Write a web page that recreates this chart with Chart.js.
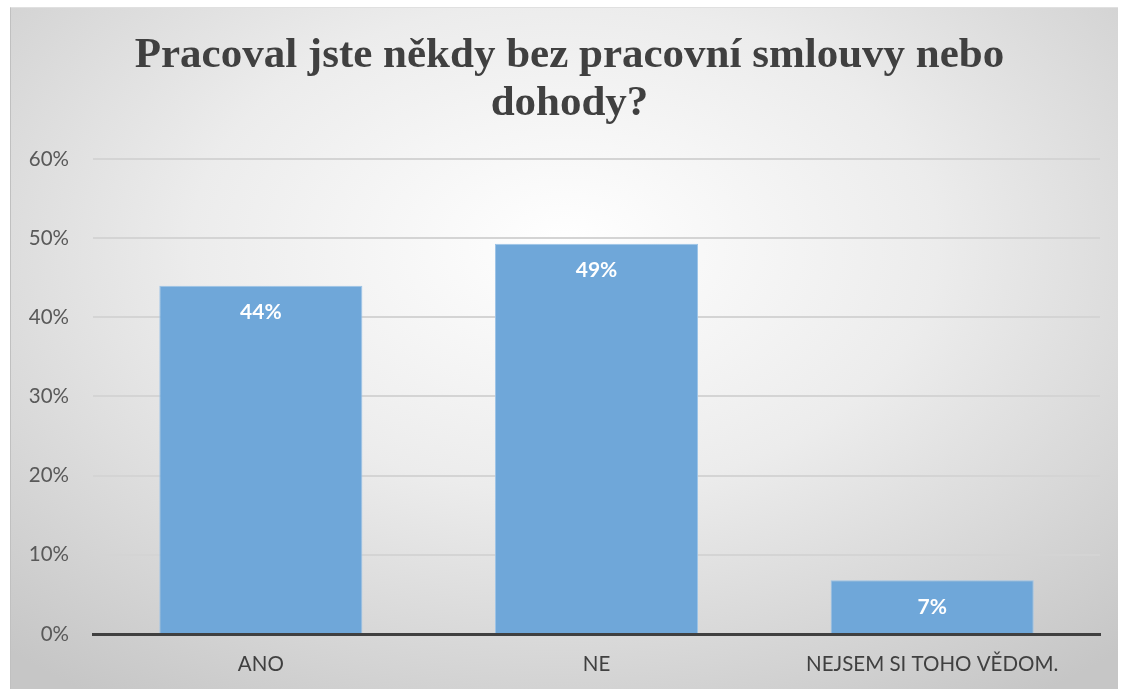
<!DOCTYPE html>
<html>
<head>
<meta charset="utf-8">
<script src="https://cdn.jsdelivr.net/npm/chart.js@4/dist/chart.umd.min.js"></script>
<style>
    html, body { margin: 0; padding: 0; background: #fff; }
    #frame {
        position: absolute; left: 10px; top: 7px; width: 1108px; height: 682px;
        background: radial-gradient(ellipse 75% 80% at 50% 35%, #ffffff 0%, #ececec 45%, #c6c6c6 100%);
        border-top: 1px solid #e0e0e0; border-left: 1px solid #c0c0c0;
        box-sizing: border-box;
    }
</style>
</head>
<body>
<div id="frame"><canvas id="barChart" width="1107" height="681"></canvas></div>
<script>
    var categories = ['ANO', 'NE', 'NEJSEM SI TOHO VĚDOM.'];
    var shares = [44.0, 49.3, 6.8];
    var shareLabels = ['44%', '49%', '7%'];
    var yTicks = [0, 10, 20, 30, 40, 50, 60];

    // white labels near the top of each bar
    var barLabels = {
        id: 'barLabels',
        afterDatasetsDraw: function (chart) {
            var ctx = chart.ctx;
            var meta = chart.getDatasetMeta(0);
            ctx.save();
            ctx.fillStyle = '#ffffff';
            ctx.font = 'bold 21px Lato';
            ctx.textAlign = 'center';
            ctx.textBaseline = 'middle';
            meta.data.forEach(function (bar, i) {
                ctx.fillText(shareLabels[i], bar.x, bar.y + 27);
            });
            ctx.restore();
        }
    };

    var ctx = document.getElementById('barChart').getContext('2d');
    var chart = new Chart(ctx, {
        type: 'bar',
        plugins: [barLabels],
        data: {
            labels: categories,
            datasets: [{
                data: shares,
                backgroundColor: '#6fa7d9',
                borderColor: '#9cc3e6',
                borderWidth: 1,
                barPercentage: 0.605,
                categoryPercentage: 1
            }]
        },
        options: {
            responsive: false,
            animation: false,
            layout: { padding: { left: 13, right: 3, top: 8, bottom: 0 } },
            plugins: {
                legend: { display: false },
                tooltip: { enabled: false },
                title: {
                    display: true,
                    text: ['Pracoval jste někdy bez pracovní smlouvy nebo', 'dohody?'],
                    color: '#404040',
                    font: { family: 'Liberation Serif', size: 43, weight: 'bold', lineHeight: 1.116 },
                    padding: { top: 16, bottom: 31 }
                }
            },
            scales: {
                x: {
                    grid: { display: false },
                    border: { display: true, color: '#404040', width: 3 },
                    ticks: { color: '#404040', font: { family: 'Lato', size: 20.5 }, padding: 10 },
                    afterFit: function (axis) { axis.height = 55; }
                },
                y: {
                    min: 0,
                    max: 60,
                    afterBuildTicks: function (axis) {
                        axis.ticks = yTicks.map(function (v) { return { value: v }; });
                    },
                    grid: { color: '#d4d4d4', lineWidth: 2, drawTicks: false },
                    border: { display: false },
                    ticks: {
                        color: '#595959',
                        font: { family: 'Lato', size: 20.5 },
                        padding: 24,
                        callback: function (v) { return v + '%'; }
                    },
                    afterFit: function (axis) { axis.width = 69; }
                },
                // empty right axis, only keeps the plot clear of the right edge
                yRight: {
                    position: 'right',
                    min: 0,
                    max: 60,
                    grid: { display: false },
                    border: { display: false },
                    ticks: { display: false },
                    afterFit: function (axis) { axis.width = 15; }
                }
            }
        }
    });
</script>
</body>
</html>
